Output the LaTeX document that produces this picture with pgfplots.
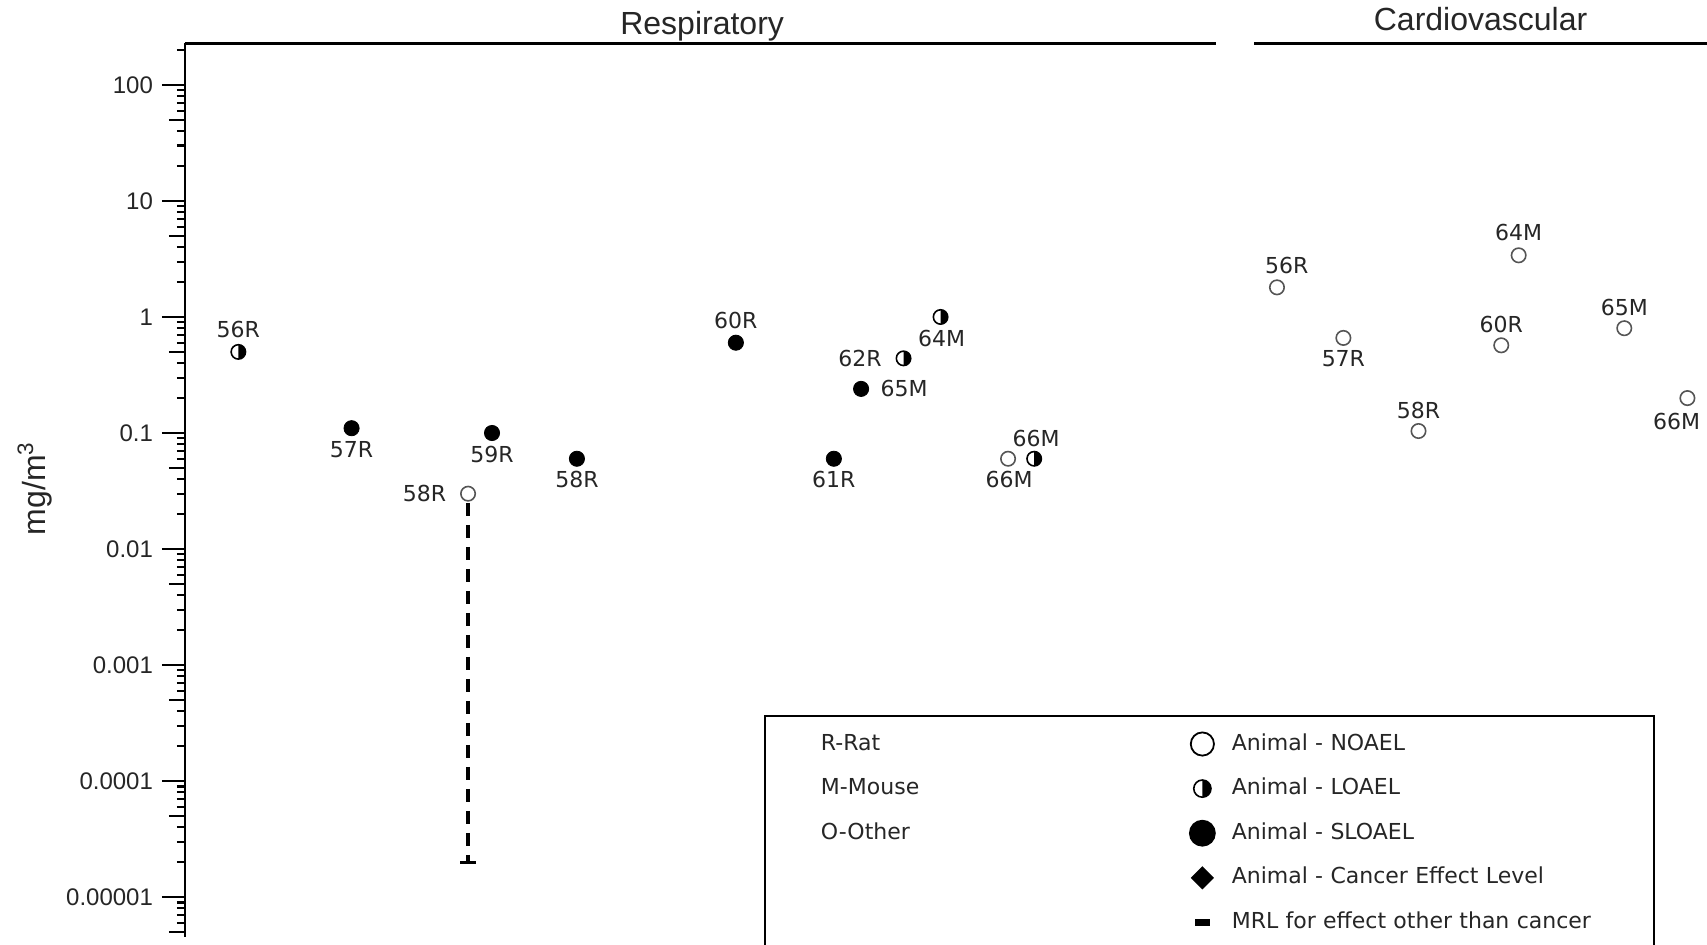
\documentclass[border=0pt]{standalone}
\usepackage{fontspec}
\setmainfont{Liberation Sans}
\newfontfamily\dv{DejaVu Sans}
\usepackage{pgfplots}
\pgfplotsset{compat=1.18}

\pgfdeclareplotmark{halfo}{%
  \pgfpathcircle{\pgfpointorigin}{\pgfplotmarksize}%
  \pgfsetfillcolor{white}%
  \pgfusepath{fill,stroke}%
  \pgfpathmoveto{\pgfpoint{0pt}{\pgfplotmarksize}}%
  \pgfpatharc{90}{-90}{\pgfplotmarksize}%
  \pgfpathclose
  \pgfsetfillcolor{black}%
  \pgfusepath{fill}%
}
\pgfdeclareplotmark{mrlbar}{%
  \pgfpathrectangle{\pgfpoint{-3.75pt}{-1.6pt}}{\pgfpoint{7.5pt}{3.2pt}}%
  \pgfusepath{fill}%
}
\pgfdeclareplotmark{dia}{%
  \pgfpathmoveto{\pgfpoint{0pt}{\pgfplotmarksize}}%
  \pgfpathlineto{\pgfpoint{\pgfplotmarksize}{0pt}}%
  \pgfpathlineto{\pgfpoint{0pt}{-\pgfplotmarksize}}%
  \pgfpathlineto{\pgfpoint{-\pgfplotmarksize}{0pt}}%
  \pgfpathclose
  \pgfusepath{fill}%
}
\definecolor{ogray}{HTML}{555555}
\tikzset{lab/.style={font=\dv\fontsize{11}{13}\selectfont, inner sep=0pt, text=black!85}}

\begin{document}
\begin{tikzpicture}
\begin{axis}[
  name=ax,
  scale only axis,
  width=761pt, height=446.6pt,
  xmin=170, xmax=1568,
  ymode=log, ymin=4.56e-6, ymax=227.5,
  clip=false,
  axis x line=none,
  axis y line*=left,
  y axis line style={line width=1.1pt},
  ytick={1e-5,1e-4,1e-3,1e-2,1e-1,1,10,100},
  yticklabels={0.00001,0.0001,0.001,0.01,0.1,1,10,100},
  minor ytick={6e-6,7e-6,8e-6,9e-6,
    2e-5,3e-5,4e-5,6e-5,7e-5,8e-5,9e-5,
    2e-4,3e-4,4e-4,6e-4,7e-4,8e-4,9e-4,
    2e-3,3e-3,4e-3,6e-3,7e-3,8e-3,9e-3,
    2e-2,3e-2,4e-2,6e-2,7e-2,8e-2,9e-2,
    0.2,0.3,0.4,0.6,0.7,0.8,0.9,
    2,3,4,6,7,8,9,
    20,30,40,60,70,80,90,200},
  extra y ticks={5e-6,5e-5,5e-4,5e-3,0.05,0.5,5,50},
  extra y tick labels={},
  extra y tick style={major tick length=8pt},
  tick align=outside,
  major tick length=11.5pt, minor tick length=4pt,
  every tick/.style={black, line width=1.1pt},
  yticklabel style={font=\fontsize{12}{14}\selectfont, text=black!85, xshift=-1pt},
  every axis y label/.style={at={([xshift=-75pt]axis description cs:0,0.502)}, rotate=90, anchor=center, font=\fontsize{16}{18}\selectfont, text=black!85},
  ylabel={mg/m\textsuperscript{3}},
  legend columns=2,
  legend cell align=left,
  legend style={at={(rel axis cs:0.3804,0.2482)}, anchor=north west, draw=black, line width=1pt,
    inner xsep=19.5pt, inner ysep=7pt, row sep=8.3pt,
    font=\dv\fontsize{11}{13}\selectfont, text=black!85,
    nodes={inner sep=0pt, text height=10pt, text depth=4pt},
    /tikz/every odd column/.append style={column sep=8.5pt},
    /tikz/every even column/.append style={column sep=0pt}},
]
% Respiratory - NOAEL
\addplot[forget plot, only marks, mark=o, mark size=3.6pt, mark options={draw=ogray, line width=0.8pt}]
  coordinates {(430,0.03) (926,0.06)};
% Respiratory - LOAEL
\addplot[forget plot, only marks, mark=halfo, mark size=3.6pt, mark options={draw=black, line width=0.8pt}]
  coordinates {(219,0.5) (830,0.44) (864,1.0) (950,0.06)};
% Respiratory - SLOAEL
\addplot[forget plot, only marks, mark=*, mark size=3.8pt, black]
  coordinates {(323,0.11) (452,0.1) (530,0.06) (676,0.6) (766,0.06) (791,0.24)};
% Cardiovascular - NOAEL
\addplot[forget plot, only marks, mark=o, mark size=3.6pt, mark options={draw=ogray, line width=0.8pt}]
  coordinates {(1173,1.8) (1234,0.66) (1303,0.104) (1379,0.57) (1395,3.4) (1492,0.8) (1550,0.2)};
% MRL
\addplot[forget plot, black, line width=2pt, dash pattern=on 6.5pt off 4.5pt]
  coordinates {(430,0.025) (430,2e-5)};
\addplot[forget plot, only marks, mark=-, mark size=4pt, mark options={line width=1.6pt}]
  coordinates {(430,2e-5)};

% point labels
\node[lab, yshift=11pt] at (axis cs:219,0.5) {56R};
\node[lab, yshift=-10.5pt] at (axis cs:323,0.11) {57R};
\node[lab, xshift=-21.8pt] at (axis cs:430,0.03) {58R};
\node[lab, yshift=-10.8pt] at (axis cs:452,0.1) {59R};
\node[lab, yshift=-10.5pt] at (axis cs:530,0.06) {58R};
\node[lab, yshift=11pt] at (axis cs:676,0.6) {60R};
\node[lab, yshift=-10.5pt] at (axis cs:766,0.06) {61R};
\node[lab, xshift=21.5pt] at (axis cs:791,0.24) {65M};
\node[lab, xshift=-21.8pt] at (axis cs:830,0.44) {62R};
\node[lab, yshift=-11pt] at (axis cs:865,1.0) {64M};
\node[lab, yshift=-10.5pt] at (axis cs:927,0.06) {66M};
\node[lab, yshift=10pt, xshift=1pt] at (axis cs:950,0.06) {66M};
\node[lab, yshift=11pt, xshift=4.9pt] at (axis cs:1173,1.8) {56R};
\node[lab, yshift=-10.5pt] at (axis cs:1234,0.66) {57R};
\node[lab, yshift=10.5pt] at (axis cs:1303,0.104) {58R};
\node[lab, yshift=10.5pt] at (axis cs:1379,0.57) {60R};
\node[lab, yshift=11.5pt] at (axis cs:1395,3.4) {64M};
\node[lab, yshift=10.5pt] at (axis cs:1492,0.8) {65M};
\node[lab, yshift=-11.5pt, xshift=-5.4pt] at (axis cs:1550,0.2) {66M};

% group titles and top rules
\draw[line width=1.2pt] (axis cs:170,227.5) -- (axis cs:1117,227.5);
\draw[line width=1.2pt] (axis cs:1152,227.5) -- (axis cs:1568,227.5);
\node[font=\fontsize{16}{19}\selectfont, text=black!85, yshift=8.75pt] at (axis cs:645,227.5) {Respiratory};
\node[font=\fontsize{16}{19}\selectfont, text=black!85, yshift=12pt] at (axis cs:1360,227.5) {Cardiovascular};

% legend
\addlegendimage{empty legend}
\addlegendentry[text width=184.5pt]{R-Rat}
\addlegendimage{only marks, mark=o, mark size=5.8pt, mark options={draw=black, line width=0.9pt}}
\addlegendentry[text width=191.5pt]{Animal - NOAEL}
\addlegendimage{empty legend}
\addlegendentry[text width=184.5pt]{M-Mouse}
\addlegendimage{only marks, mark=halfo, mark size=4.3pt, mark options={draw=black, line width=0.8pt}}
\addlegendentry[text width=191.5pt]{Animal - LOAEL}
\addlegendimage{empty legend}
\addlegendentry[text width=184.5pt]{O-Other}
\addlegendimage{only marks, mark=*, mark size=6.2pt, black}
\addlegendentry[text width=191.5pt]{Animal - SLOAEL}
\addlegendimage{empty legend}
\addlegendentry[text width=184.5pt]{}
\addlegendimage{only marks, mark=dia, mark size=5.8pt, black}
\addlegendentry[text width=191.5pt]{Animal - Cancer Effect Level}
\addlegendimage{empty legend}
\addlegendentry[text width=184.5pt]{}
\addlegendimage{only marks, mark=mrlbar, black}
\addlegendentry[text width=191.5pt]{MRL for effect other than cancer}
\end{axis}
\pgfresetboundingbox
\useasboundingbox (-92.5pt,-4.15pt) rectangle (761pt,468.35pt);
\end{tikzpicture}
\end{document}
